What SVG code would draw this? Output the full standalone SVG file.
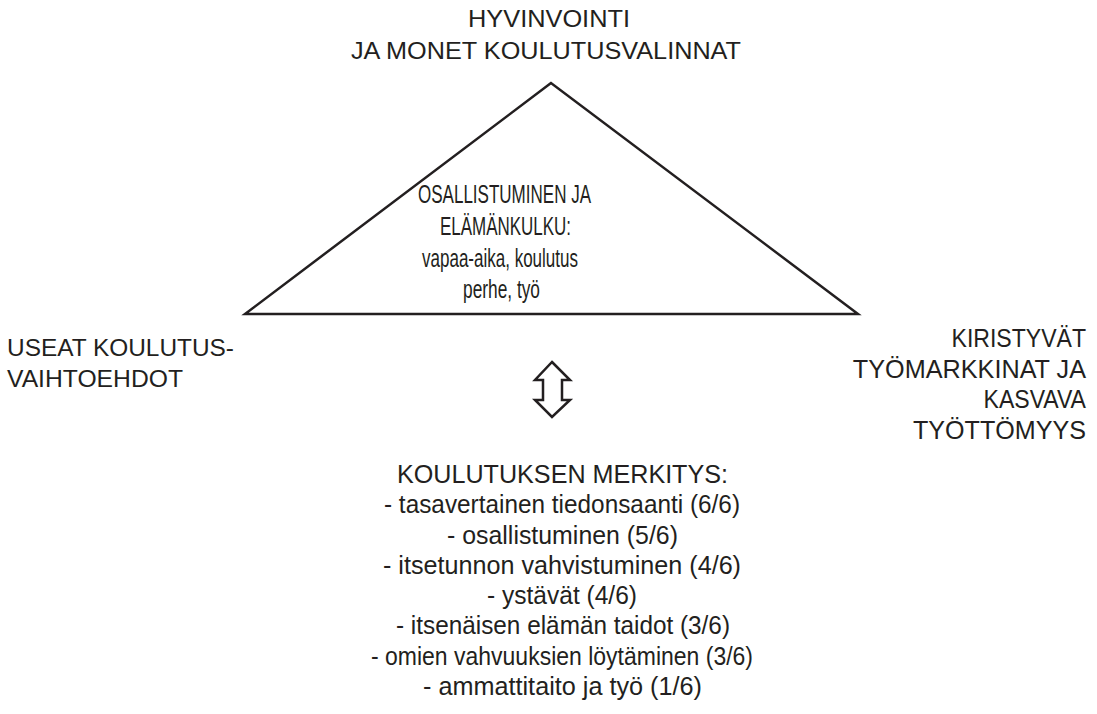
<svg xmlns="http://www.w3.org/2000/svg" width="1097" height="714" viewBox="0 0 1097 714">
<style>
text{font-family:"Liberation Sans",Arial,sans-serif;fill:#231f20}
.t{font-size:24px}
.tri{font-size:25px}
.side{font-size:24px}
.rt{font-size:26.5px;text-anchor:end}
.b{font-size:26px}
.shape{fill:#fff;stroke:#231f20;stroke-width:2.5;stroke-linejoin:miter}
</style>
<rect width="1097" height="714" fill="#fff"/>
<g id="top">
<text class="t" x="468" y="27" textLength="162" lengthAdjust="spacingAndGlyphs">HYVINVOINTI</text>
<text class="t" x="351" y="59" textLength="390" lengthAdjust="spacingAndGlyphs">JA MONET KOULUTUSVALINNAT</text>
</g>
<g id="triangle">
<polygon class="shape" points="551,83 245,314 858,314"/>
<text class="tri" x="418" y="203" textLength="173" lengthAdjust="spacingAndGlyphs">OSALLISTUMINEN JA</text>
<text class="tri" x="440" y="235" textLength="131" lengthAdjust="spacingAndGlyphs">ELÄMÄNKULKU:</text>
<text class="tri" x="422" y="267" textLength="156" lengthAdjust="spacingAndGlyphs">vapaa-aika, koulutus</text>
<text class="tri" x="463" y="298" textLength="77" lengthAdjust="spacingAndGlyphs">perhe, työ</text>
</g>
<g id="left">
<text class="side" x="7" y="355.5" textLength="227" lengthAdjust="spacingAndGlyphs">USEAT KOULUTUS-</text>
<text class="side" x="7" y="387" textLength="176" lengthAdjust="spacingAndGlyphs">VAIHTOEHDOT</text>
</g>
<g id="right" transform="translate(1086 0) scale(0.87 1)">
<text class="rt" x="0" y="347">KIRISTYVÄT</text>
<text class="rt" x="0" y="378" textLength="268" lengthAdjust="spacingAndGlyphs">TYÖMARKKINAT JA</text>
<text class="rt" x="0" y="408">KASVAVA</text>
<text class="rt" x="0" y="439" textLength="199" lengthAdjust="spacingAndGlyphs">TYÖTTÖMYYS</text>
</g>
<g id="connectors">
<polygon class="shape" stroke-width="2" points="552,362 570,380 562,380 562,400 570,400 552,417 535,400 543,400 543,380 535,380"/>
</g>
<g id="bottom">
<text class="b" x="397" y="483" textLength="331" lengthAdjust="spacingAndGlyphs">KOULUTUKSEN MERKITYS:</text>
<text class="b" x="384" y="513.3" textLength="356" lengthAdjust="spacingAndGlyphs">- tasavertainen tiedonsaanti (6/6)</text>
<text class="b" x="447" y="543.6" textLength="231" lengthAdjust="spacingAndGlyphs">- osallistuminen (5/6)</text>
<text class="b" x="383" y="573.9" textLength="358" lengthAdjust="spacingAndGlyphs">- itsetunnon vahvistuminen (4/6)</text>
<text class="b" x="487" y="604.1" textLength="150" lengthAdjust="spacingAndGlyphs">- ystävät (4/6)</text>
<text class="b" x="396" y="634.4" textLength="334" lengthAdjust="spacingAndGlyphs">- itsenäisen elämän taidot (3/6)</text>
<text class="b" x="371" y="664.7" textLength="382" lengthAdjust="spacingAndGlyphs">- omien vahvuuksien löytäminen (3/6)</text>
<text class="b" x="423" y="695" textLength="279" lengthAdjust="spacingAndGlyphs">- ammattitaito ja työ (1/6)</text>
</g>
</svg>
